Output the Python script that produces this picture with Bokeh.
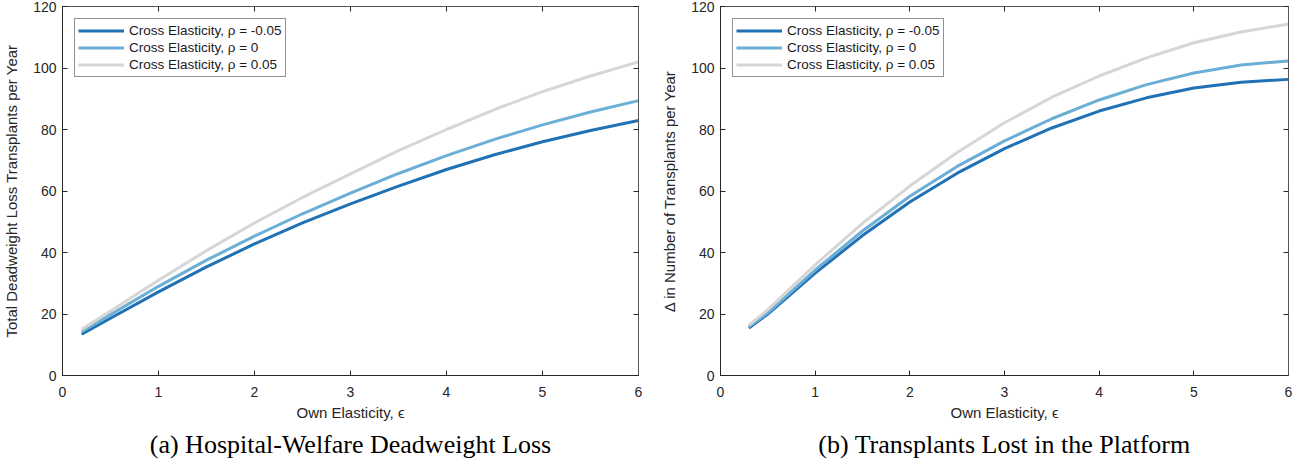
from bokeh.plotting import figure
from bokeh.models import (Range1d, FixedTicker, LinearAxis, Title, Legend, LegendItem,
                          CustomJSTickFormatter)
from bokeh.layouts import row
from bokeh.embed import file_html
from bokeh.resources import INLINE


# values
x_left = [0.2, 0.5, 1, 1.5, 2, 2.5, 3, 3.5, 4, 4.5, 5, 5.5, 6]
dwl_neg = [13.4, 18.6, 27.2, 35.3, 42.8, 49.6, 55.8, 61.6, 67.0, 71.8, 76.0, 79.7, 82.9]
dwl_zero = [14.2, 19.8, 29.0, 37.5, 45.3, 52.6, 59.3, 65.7, 71.5, 76.8, 81.5, 85.7, 89.4]
dwl_pos = [15.0, 21.0, 31.0, 40.6, 49.6, 57.9, 65.6, 73.1, 80.0, 86.5, 92.3, 97.4, 102.0]

x_right = [0.3, 0.5, 1, 1.5, 2, 2.5, 3, 3.5, 4, 4.5, 5, 5.5, 6]
lost_neg = [15.4, 20.0, 33.3, 45.5, 56.4, 65.8, 73.8, 80.5, 86.0, 90.3, 93.5, 95.4, 96.3]
lost_zero = [15.8, 20.4, 34.3, 47.0, 58.3, 68.0, 76.3, 83.5, 89.6, 94.6, 98.4, 101.0, 102.3]
lost_pos = [16.4, 21.4, 36.0, 49.5, 61.6, 72.5, 82.2, 90.5, 97.4, 103.3, 108.2, 111.7, 114.3]

series_labels = ["Cross Elasticity, ρ = -0.05", "Cross Elasticity, ρ = 0", "Cross Elasticity, ρ = 0.05"]
series_colors = ["#2171b5", "#6baed6", "#d6d6d6"]
x_ticks = [0, 1, 2, 3, 4, 5, 6]
y_ticks = [0, 20, 40, 60, 80, 100, 120]

SANS = "Liberation Sans"
SERIF = "Liberation Serif"
AX = "#262626"


def style_axis(ax):
    ax.major_tick_in = 5
    ax.major_tick_out = 0
    ax.minor_tick_in = 0
    ax.minor_tick_out = 0
    ax.axis_line_color = AX
    ax.major_tick_line_color = AX
    ax.major_label_text_color = AX
    ax.major_label_text_font = SANS
    ax.major_label_text_font_size = "14px"
    ax.axis_label_text_font = SANS
    ax.axis_label_text_font_size = "15px"
    ax.axis_label_text_font_style = "normal"
    ax.axis_label_text_color = AX


def make_panel(xs, ys, ylabel, caption, width, right_border):
    p = figure(width=width, height=463, output_backend="svg", toolbar_location=None,
               x_range=Range1d(0, 6), y_range=Range1d(0, 120),
               min_border_left=0, min_border_right=right_border, min_border_top=6,
               min_border_bottom=0)
    p.xgrid.grid_line_color = None
    p.ygrid.grid_line_color = None
    p.outline_line_color = AX

    p.xaxis.ticker = FixedTicker(ticks=x_ticks)
    p.yaxis.ticker = FixedTicker(ticks=y_ticks)
    p.xaxis.axis_label = "Own Elasticity, ϵ"
    p.yaxis.axis_label = ylabel
    style_axis(p.xaxis[0])
    style_axis(p.yaxis[0])
    p.xaxis.major_label_standoff = 11
    p.yaxis.major_label_standoff = 6
    p.xaxis.axis_label_standoff = 4
    p.yaxis.axis_label_standoff = 10

    # box ticks on top and right, no labels
    blank = CustomJSTickFormatter(code="return ''")
    top = LinearAxis(ticker=FixedTicker(ticks=x_ticks), formatter=blank)
    right = LinearAxis(ticker=FixedTicker(ticks=y_ticks), formatter=blank)
    for ax in (top, right):
        style_axis(ax)
        ax.major_label_standoff = 0
        ax.axis_line_color = "#555555"
    p.add_layout(top, "above")
    p.add_layout(right, "right")

    items = []
    for y, lab, col in zip(ys, series_labels, series_colors):
        r = p.line(xs, y, line_color=col, line_width=3)
        items.append(LegendItem(label=lab, renderers=[r]))

    legend = Legend(items=items, location="top_left")
    legend.label_text_font = SANS
    legend.label_text_font_size = "13.5px"
    legend.label_text_color = "#1a1a1a"
    legend.glyph_width = 46
    legend.glyph_height = 17
    legend.label_height = 17
    legend.label_standoff = 5
    legend.spacing = 0
    legend.padding = 3
    legend.margin = 12
    legend.border_line_color = AX
    legend.border_line_width = 1
    p.add_layout(legend)

    p.add_layout(Title(text=caption, align="center", text_font=SERIF,
                       text_font_size="26px", text_font_style="normal",
                       text_color="black", standoff=9), "below")
    return p


p1 = make_panel(x_left, [dwl_neg, dwl_zero, dwl_pos],
                "Total Deadweight Loss Transplants per Year",
                "(a) Hospital-Welfare Deadweight Loss", 658, 20)
p2 = make_panel(x_right, [lost_neg, lost_zero, lost_pos],
                "Δ in Number of Transplants per Year",
                "(b) Transplants Lost in the Platform", 641, 11)

layout = row(p1, p2, spacing=0)
open("out.html", "w").write(file_html(layout, INLINE))
